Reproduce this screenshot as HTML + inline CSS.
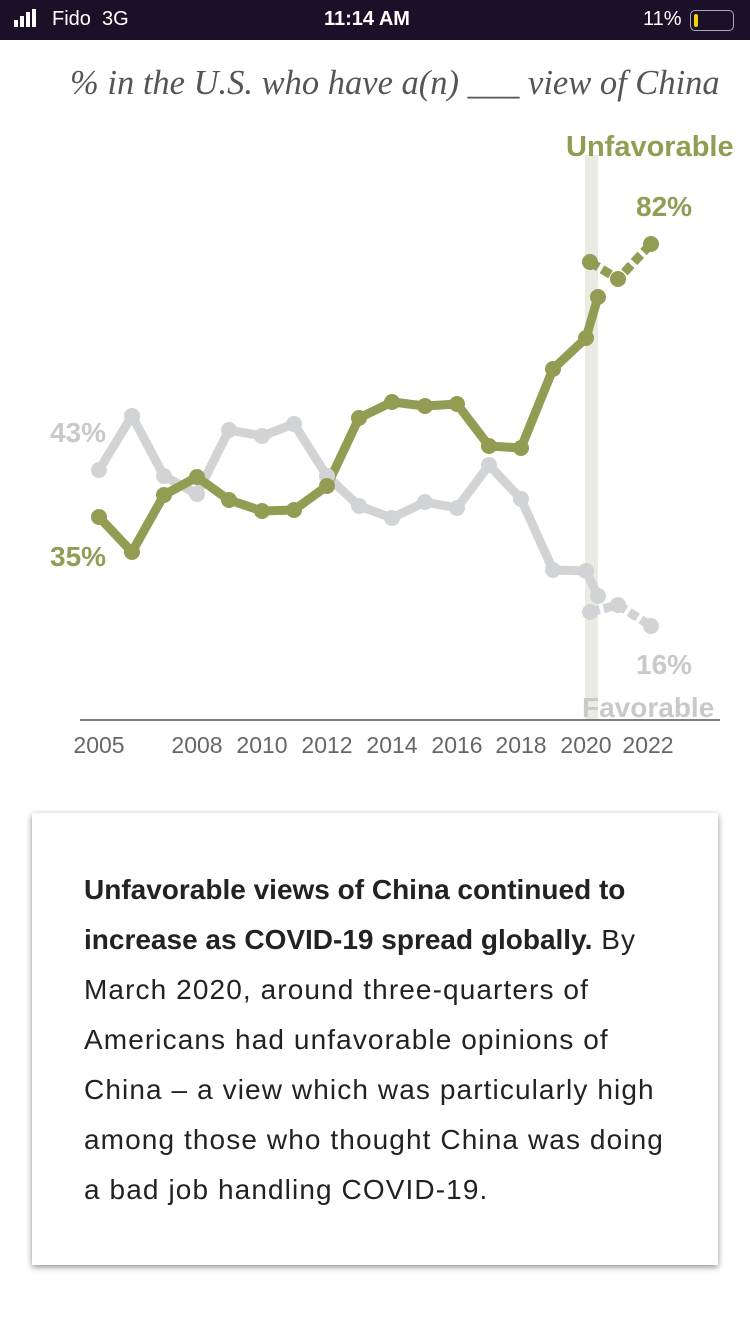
<!DOCTYPE html>
<html><head><meta charset="utf-8"><style>
body{margin:0;width:750px;height:1334px;background:#fff;position:relative;overflow:hidden;font-family:"Liberation Sans",sans-serif}
.sb{position:absolute;left:0;top:0;width:750px;height:40px;background:#1a1128;color:#fff;font-size:20px}
.card{position:absolute;left:32px;top:813px;width:686px;height:452px;background:#fff;box-shadow:0 2px 6px rgba(0,0,0,.45)}
.card .t{position:absolute;left:52px;top:52px;font-size:28px;line-height:50px;color:#222;white-space:nowrap;letter-spacing:1.1px}
.card .t b{letter-spacing:0}
</style></head><body>
<div class="sb">
<svg width="50" height="40" style="position:absolute;left:10px;top:0"><rect x="4" y="20" width="4" height="7" fill="#fff"/><rect x="10" y="16" width="4" height="11" fill="#fff"/><rect x="16" y="12" width="4" height="15" fill="#fff"/><rect x="22" y="9" width="4" height="18" fill="#fff"/></svg>
<span style="position:absolute;left:52px;top:8px">Fido&nbsp;&nbsp;3G</span>
<span style="position:absolute;left:324px;top:8px;font-weight:bold">11:14 AM</span>
<span style="position:absolute;left:643px;top:8px">11%</span>
<div style="position:absolute;left:690px;top:10px;width:42px;height:19px;border:1.5px solid #aaa;border-radius:5px"><div style="margin:3px;width:4px;height:13px;background:#f4d400;border-radius:2px"></div></div>
</div>
<div style="position:absolute;left:70px;top:64px;font-family:'Liberation Serif',serif;font-style:italic;font-size:34.5px;color:#555;white-space:nowrap">% in the U.S. who have a(n) ___ view of China</div>
<svg width="750" height="800" style="position:absolute;left:0;top:0">
<rect x="585" y="155" width="13" height="565" fill="#ebebe3"/>
<line x1="80" y1="720" x2="720" y2="720" stroke="#555" stroke-width="1.5"/>
<g fill="none" stroke-linejoin="round" stroke-width="9">
<polyline stroke="#d2d3d4" points="99,470 132,416 164,476 197,494 229,430 262,436 294,424 327,476 359,506 392,518 425,502 457,508 489,465 521,499 553,570 586,571 598,596"/>
<polyline stroke="#d2d3d4" stroke-dasharray="10,4" points="590,612 618,605 651,626"/>
<polyline stroke="#929c53" points="99,517 132,552 164,495 197,477 229,500 262,511 294,510 327,486 359,418 392,402 425,406 457,404 489,446 521,448 553,369 586,338 598,297"/>
<polyline stroke="#929c53" stroke-dasharray="10,4" points="590,262 618,279 651,244"/>
</g>
<g fill="#d2d3d4"><circle cx="99" cy="470" r="8"/><circle cx="132" cy="416" r="8"/><circle cx="164" cy="476" r="8"/><circle cx="197" cy="494" r="8"/><circle cx="229" cy="430" r="8"/><circle cx="262" cy="436" r="8"/><circle cx="294" cy="424" r="8"/><circle cx="327" cy="476" r="8"/><circle cx="359" cy="506" r="8"/><circle cx="392" cy="518" r="8"/><circle cx="425" cy="502" r="8"/><circle cx="457" cy="508" r="8"/><circle cx="489" cy="465" r="8"/><circle cx="521" cy="499" r="8"/><circle cx="553" cy="570" r="8"/><circle cx="586" cy="571" r="8"/><circle cx="598" cy="596" r="8"/><circle cx="590" cy="612" r="8"/><circle cx="618" cy="605" r="8"/><circle cx="651" cy="626" r="8"/></g>
<g fill="#929c53"><circle cx="99" cy="517" r="8"/><circle cx="132" cy="552" r="8"/><circle cx="164" cy="495" r="8"/><circle cx="197" cy="477" r="8"/><circle cx="229" cy="500" r="8"/><circle cx="262" cy="511" r="8"/><circle cx="294" cy="510" r="8"/><circle cx="327" cy="486" r="8"/><circle cx="359" cy="418" r="8"/><circle cx="392" cy="402" r="8"/><circle cx="425" cy="406" r="8"/><circle cx="457" cy="404" r="8"/><circle cx="489" cy="446" r="8"/><circle cx="521" cy="448" r="8"/><circle cx="553" cy="369" r="8"/><circle cx="586" cy="338" r="8"/><circle cx="598" cy="297" r="8"/><circle cx="590" cy="262" r="8"/><circle cx="618" cy="279" r="8"/><circle cx="651" cy="244" r="8"/></g>
<g font-family="Liberation Sans,sans-serif" font-weight="bold" font-size="28">
<text x="50" y="442" fill="#c8c9ca">43%</text>
<text x="50" y="566" fill="#929c53">35%</text>
<text x="636" y="216" fill="#929c53">82%</text>
<text x="636" y="674" fill="#c8c9ca">16%</text>
<text x="566" y="156" fill="#929c53" font-size="29">Unfavorable</text>
<text x="582" y="717" fill="#c8c9ca">Favorable</text>
</g>
<g font-size="23" fill="#666" text-anchor="middle" font-family="Liberation Sans,sans-serif">
<text x="99" y="753">2005</text><text x="197" y="753">2008</text><text x="262" y="753">2010</text><text x="327" y="753">2012</text><text x="392" y="753">2014</text><text x="457" y="753">2016</text><text x="521" y="753">2018</text><text x="586" y="753">2020</text><text x="648" y="753">2022</text>
</g>
</svg>
<div class="card">
<div class="t">
<div><b>Unfavorable views of China continued to</b></div>
<div><b>increase as COVID-19 spread globally.</b> By</div>
<div>March 2020, around three-quarters of</div>
<div>Americans had unfavorable opinions of</div>
<div>China – a view which was particularly high</div>
<div>among those who thought China was doing</div>
<div>a bad job handling COVID-19.</div>
</div>
</div>
</body></html>
